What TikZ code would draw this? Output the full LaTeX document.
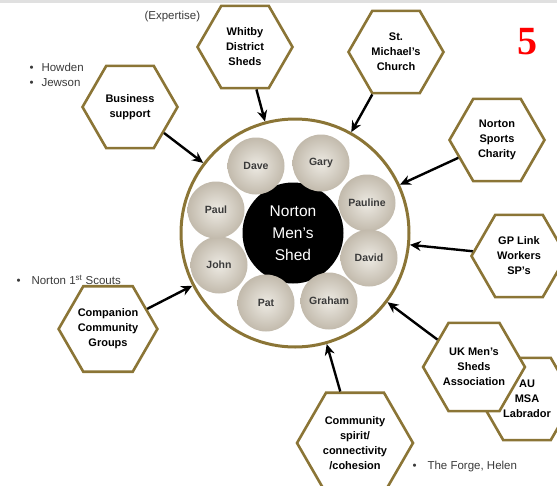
\documentclass[tikz,border=0pt]{standalone}
\usepackage{fontspec}
\setmainfont{Liberation Sans}
\newfontfamily\numfont{Liberation Serif}
\usetikzlibrary{arrows.meta,shapes.geometric}
\definecolor{gold}{HTML}{8B7536}
\definecolor{tanin}{HTML}{EDEAE3}
\definecolor{tanout}{HTML}{C2BAAC}
\definecolor{ink}{HTML}{3A3A3A}

\begin{document}
\begin{tikzpicture}[x=1pt,y=-1pt,
  hexa/.style={regular polygon,regular polygon sides=6,minimum size=95pt,inner sep=0pt,draw=gold,line width=2.6pt,fill=white,align=center,font=\fontsize{11}{15}\selectfont\bfseries,text=black},
  member/.style={circle,minimum size=57pt,inner sep=0pt,shading=radial,inner color=tanin,outer color=tanout,font=\fontsize{10.5}{12}\selectfont\bfseries,text=ink},
  note/.style={font=\fontsize{11.5}{15}\selectfont,text=ink,align=left,anchor=west},
  ar/.style={-{Stealth[length=11pt,width=10pt]},line width=2.4pt,black}
]
\useasboundingbox (0,0) rectangle (557,485);
\fill[black!12] (0,0) rectangle (557,3);
% the shed and its members
\node[circle,draw=gold,line width=3pt,fill=white,minimum size=228pt] (ring) at (295,233) {};
\node[circle,fill=black,minimum size=101pt,align=center,text=white,font=\fontsize{15.5}{22}\selectfont] (shed) at (293,233) {Norton\\Men's\\Shed};
\node[member] (dave) at (256,166) {Dave};
\node[member] (gary) at (321,163) {Gary};
\node[member] (pauline) at (367,203) {Pauline};
\node[member] (david) at (369,258) {David};
\node[member] (graham) at (329,301) {Graham};
\node[member] (pat) at (266,303) {Pat};
\node[member] (john) at (219,265) {John};
\node[member] (paul) at (216,210) {Paul};
% partners
\node[hexa] (whitby) at (245,47) {Whitby\\District\\Sheds};
\node[hexa] (church) at (396,52) {St.\\Michael's\\Church};
\node[hexa] (business) at (130,107) {Business\\support};
\node[hexa] (sports) at (497,140) {Norton\\Sports\\Charity};
\node[hexa] (gplink) at (519,256) {GP Link\\Workers\\SP's};
\node[hexa] (aumsa) at (527,399) {AU\\MSA\\Labrador};
\node[hexa] (ukmsa) at (474,367) {UK Men's\\Sheds\\Association};
\node[hexa,minimum size=116pt] (spirit) at (355,443) {Community\\spirit/\\connectivity\\/cohesion};
\node[hexa] (companion) at (108,329) {Companion\\Community\\Groups};
\draw[ar](whitby)--(ring);\draw[ar](church)--(ring);\draw[ar](business)--(ring);
\draw[ar](sports)--(ring);\draw[ar](gplink)--(ring);\draw[ar](ukmsa)--(ring);
\draw[ar](spirit)--(ring);\draw[ar](companion)--(ring);
% side notes
\node[note] (expertise) at (141,17) {(Expertise)};
\node[note] (suppliers) at (26,75) {\textbullet\hspace{8pt}Howden\\\textbullet\hspace{8pt}Jewson};
\node[note] (scouts) at (13,280) {\textbullet\hspace{11pt}Norton 1\textsuperscript{st} Scouts};
\node[note] (forge) at (409,467) {\textbullet\hspace{11pt}The Forge, Helen};
\node[text=red,font=\fontsize{40}{40}\selectfont\numfont\bfseries] (num) at (527,42) {5};
\end{tikzpicture}
\end{document}
